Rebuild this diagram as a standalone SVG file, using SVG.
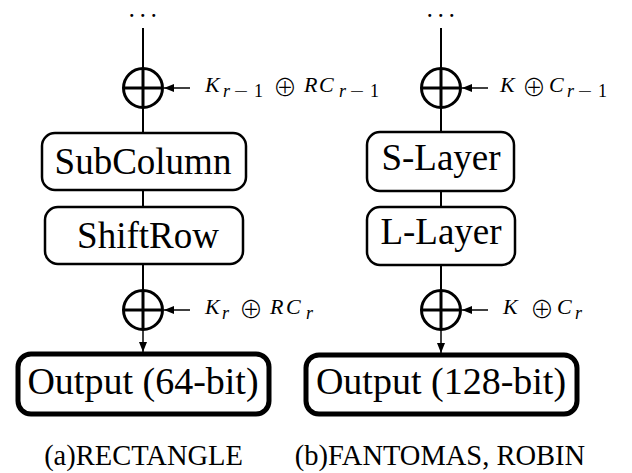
<svg xmlns="http://www.w3.org/2000/svg" width="632" height="473" viewBox="0 0 632 473">
  <defs>
    <marker id="arrow" viewBox="0 0 10 8" refX="10" refY="4" markerWidth="10" markerHeight="8" markerUnits="userSpaceOnUse" orient="auto">
      <path d="M0,0 L10,4 L0,8 Z" fill="#000"/>
    </marker>
  </defs>
  <style>
    .wire { stroke: #000; stroke-width: 2; fill: none; }
    .feed { stroke: #000; stroke-width: 1.5; fill: none; }
    .xor { stroke: #000; stroke-width: 3; fill: #fff; }
    .xorbar { stroke: #000; stroke-width: 3; }
    .box { stroke: #000; stroke-width: 2.5; fill: #fff; }
    .obox { stroke: #000; stroke-width: 5; fill: #fff; }
    .lbl { font-family: "Liberation Serif", "Times New Roman", serif; font-size: 37px; fill: #000; text-anchor: middle; }
    .olbl { font-family: "Liberation Serif", "Times New Roman", serif; font-size: 38px; fill: #000; text-anchor: middle; }
    .cap { font-family: "Liberation Serif", "Times New Roman", serif; font-size: 28.5px; fill: #000; text-anchor: middle; }
    .math { font-family: "Liberation Serif", "Times New Roman", serif; font-size: 22px; fill: #000; }
    .it { font-style: italic; }
    .sub { font-size: 18px; }
    .op { font-family: "Noto Sans CJK JP", "DejaVu Sans", sans-serif; font-weight: 300; font-size: 24px; }
    .minus { font-family: "DejaVu Sans", sans-serif; font-weight: 200; font-size: 19px; }
    .dots { font-family: "Liberation Serif", "Times New Roman", serif; font-size: 18px; font-weight: bold; letter-spacing: 6.5px; fill: #000; text-anchor: middle; }
  </style>

  <!-- connectors -->
  <g id="connectors">
    <!-- left datapath -->
    <line class="wire" x1="143" y1="28" x2="143" y2="68"/>
    <line class="wire" x1="143" y1="107" x2="143" y2="133"/>
    <line class="wire" x1="143" y1="190" x2="143" y2="207"/>
    <line class="wire" x1="143" y1="264" x2="143" y2="291"/>
    <line class="feed" x1="143" y1="329" x2="143" y2="352" marker-end="url(#arrow)"/>
    <line class="feed" x1="190" y1="88" x2="164" y2="88" marker-end="url(#arrow)"/>
    <line class="feed" x1="190" y1="310" x2="164" y2="310" marker-end="url(#arrow)"/>
    <!-- right datapath -->
    <line class="wire" x1="441" y1="28" x2="441" y2="68"/>
    <line class="wire" x1="441" y1="107" x2="441" y2="132"/>
    <line class="wire" x1="441" y1="191" x2="441" y2="207"/>
    <line class="wire" x1="441" y1="265" x2="441" y2="291"/>
    <line class="feed" x1="441" y1="329" x2="441" y2="353" marker-end="url(#arrow)"/>
    <line class="feed" x1="488" y1="88" x2="462" y2="88" marker-end="url(#arrow)"/>
    <line class="feed" x1="488" y1="310" x2="462" y2="310" marker-end="url(#arrow)"/>
  </g>

  <!-- left column: RECTANGLE -->
  <g id="dots-a"><text class="dots" x="146" y="17">...</text></g>

  <g id="xor-a1">
    <circle class="xor" cx="143" cy="88" r="19.5"/>
    <line class="xorbar" x1="123.5" y1="88" x2="162.5" y2="88"/>
    <line class="xorbar" x1="143" y1="68.5" x2="143" y2="107.5"/>
  </g>
  <g id="key-a1">
    <text class="math"><tspan class="it" x="205" y="92">K</tspan><tspan class="sub it" x="223" y="97">r</tspan><tspan class="minus" x="233" y="97">−</tspan><tspan class="sub" x="254" y="97">1</tspan><tspan class="op" x="273" y="96">⊕</tspan><tspan class="it" x="304" y="92">R</tspan><tspan class="it" x="319" y="92">C</tspan><tspan class="sub it" x="339" y="97">r</tspan><tspan class="minus" x="349" y="97">−</tspan><tspan class="sub" x="370" y="97">1</tspan></text>
  </g>

  <g id="subcolumn">
    <rect class="box" x="42" y="133" width="204" height="57" rx="13"/>
    <text class="lbl" x="143" y="174">SubColumn</text>
  </g>
  <g id="shiftrow">
    <rect class="box" x="45" y="207" width="198" height="57" rx="13"/>
    <text class="lbl" x="148" y="248">ShiftRow</text>
  </g>

  <g id="xor-a2">
    <circle class="xor" cx="143" cy="310" r="19.5"/>
    <line class="xorbar" x1="123.5" y1="310" x2="162.5" y2="310"/>
    <line class="xorbar" x1="143" y1="290.5" x2="143" y2="329.5"/>
  </g>
  <g id="key-a2">
    <text class="math"><tspan class="it" x="205" y="314">K</tspan><tspan class="sub it" x="222" y="319">r</tspan><tspan class="op" x="239" y="318">⊕</tspan><tspan class="it" x="270" y="314">R</tspan><tspan class="it" x="286" y="314">C</tspan><tspan class="sub it" x="306" y="319">r</tspan></text>
  </g>

  <g id="output-a">
    <rect class="obox" x="18" y="354" width="251" height="60" rx="13"/>
    <text class="olbl" x="143" y="394">Output (64-bit)</text>
  </g>
  <g id="caption-a"><text class="cap" x="143.5" y="465">(a)RECTANGLE</text></g>

  <!-- right column: FANTOMAS, ROBIN -->
  <g id="dots-b"><text class="dots" x="444" y="17">...</text></g>

  <g id="xor-b1">
    <circle class="xor" cx="441" cy="88" r="19.5"/>
    <line class="xorbar" x1="421.5" y1="88" x2="460.5" y2="88"/>
    <line class="xorbar" x1="441" y1="68.5" x2="441" y2="107.5"/>
  </g>
  <g id="key-b1">
    <text class="math"><tspan class="it" x="500" y="92">K</tspan><tspan class="op" x="522" y="96">⊕</tspan><tspan class="it" x="549" y="92">C</tspan><tspan class="sub it" x="567" y="97">r</tspan><tspan class="minus" x="577" y="97">−</tspan><tspan class="sub" x="598" y="97">1</tspan></text>
  </g>

  <g id="s-layer">
    <rect class="box" x="367" y="132" width="147" height="59" rx="13"/>
    <text class="lbl" x="441" y="170">S-Layer</text>
  </g>
  <g id="l-layer">
    <rect class="box" x="367" y="207" width="148" height="58" rx="13"/>
    <text class="lbl" x="441" y="244">L-Layer</text>
  </g>

  <g id="xor-b2">
    <circle class="xor" cx="441" cy="310" r="19.5"/>
    <line class="xorbar" x1="421.5" y1="310" x2="460.5" y2="310"/>
    <line class="xorbar" x1="441" y1="290.5" x2="441" y2="329.5"/>
  </g>
  <g id="key-b2">
    <text class="math"><tspan class="it" x="503" y="314">K</tspan><tspan class="op" x="530" y="318">⊕</tspan><tspan class="it" x="557" y="314">C</tspan><tspan class="sub it" x="575" y="319">r</tspan></text>
  </g>

  <g id="output-b">
    <rect class="obox" x="306" y="355" width="271" height="59" rx="13"/>
    <text class="olbl" x="441" y="394">Output (128-bit)</text>
  </g>
  <g id="caption-b"><text class="cap" x="440" y="465">(b)FANTOMAS, ROBIN</text></g>
</svg>
